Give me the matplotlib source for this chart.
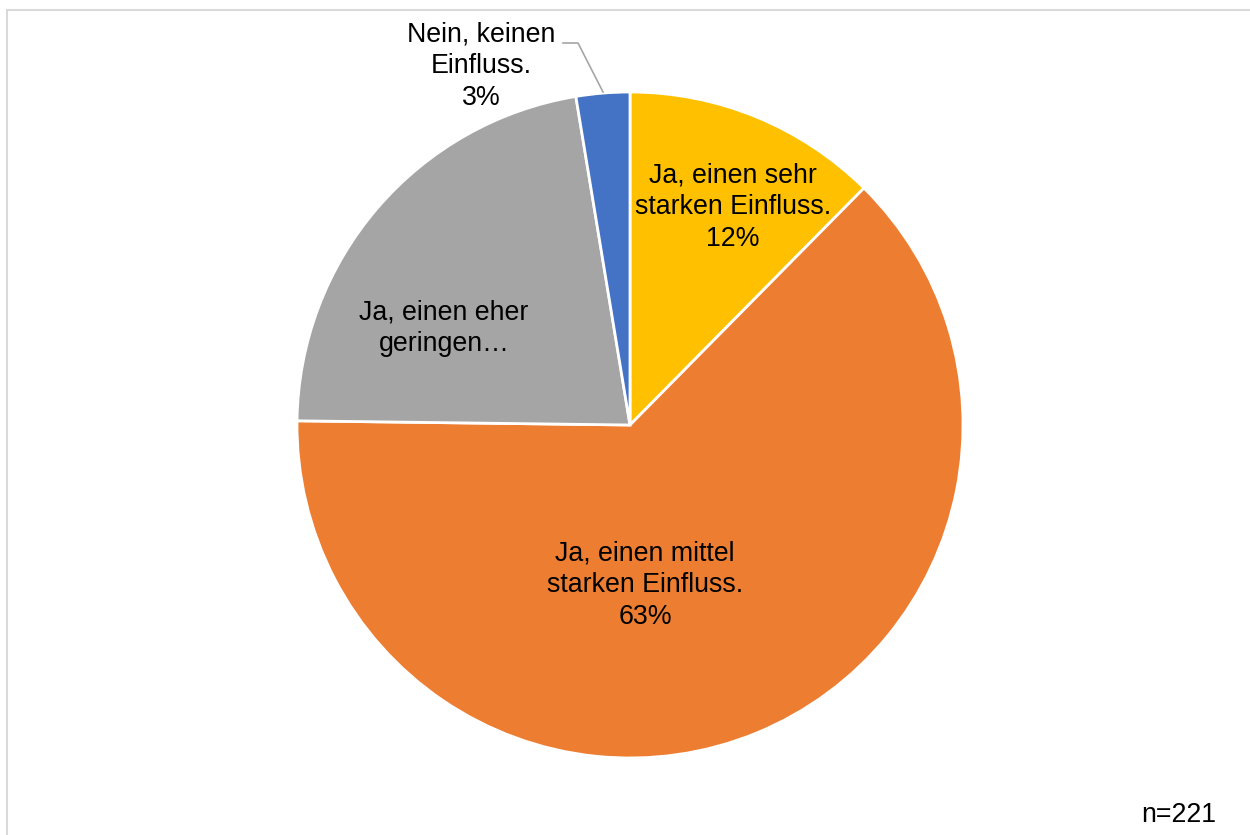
import matplotlib
matplotlib.use("Agg")
import matplotlib.pyplot as plt
from matplotlib.patches import Rectangle

plt.rcParams['font.family'] = ['Liberation Sans', 'DejaVu Sans']

categories = ["Ja, einen sehr\nstarken Einfluss.", "Ja, einen mittel\nstarken Einfluss.",
              "Ja, einen eher\ngeringen…", "Nein, keinen\nEinfluss."]
values = [12.4, 62.8, 22.2, 2.6]
pct_labels = ["12%", "63%", "", "3%"]
colors = ["#FFC000", "#ED7D31", "#A5A5A5", "#4472C4"]
note = "n=221"

W, H = 1250, 835
cx, cy, R = 630, 425, 333
fig = plt.figure(figsize=(W / 100, H / 100), dpi=100)
ax = fig.add_axes([0, 0, 1, 1])

ax.pie(values, colors=colors, startangle=90, counterclock=False, radius=1.0, center=(0, 0),
       wedgeprops=dict(edgecolor="white", linewidth=2.0))
ax.set_xlim(-cx / R, (W - cx) / R)
ax.set_ylim(-(H - cy) / R, cy / R)
ax.set_aspect('equal', adjustable='datalim')
ax.axis('off')

# frame
fig.patches.append(Rectangle((7 / W, -0.1), 1.1, 1 - 10 / H + 0.1, transform=fig.transFigure,
                             fill=False, edgecolor="#D9D9D9", linewidth=1.5))

def px(x, y):
    return (x - cx) / R, (cy - y) / R

label_pos = [(733, 207), (645, 585), (444, 328), (481, 66)]
fs = 19.3
for cat, pct, (lx, ly) in zip(categories, pct_labels, label_pos):
    txt = cat + ("\n" + pct if pct else "")
    ax.text(*px(lx, ly), txt, ha="center", va="center", fontsize=fs, color="#000000",
            linespacing=1.28)

# leader line for small slice
pts = [px(563, 43), px(578, 43), px(603, 92)]
ax.plot([p[0] for p in pts], [p[1] for p in pts], color="#A6A6A6", linewidth=1.2)

fig.text(1216 / W, 1 - 815 / H, note, ha="right", va="center", fontsize=fs, color="#000000")

fig.savefig("out.png", dpi=100)
